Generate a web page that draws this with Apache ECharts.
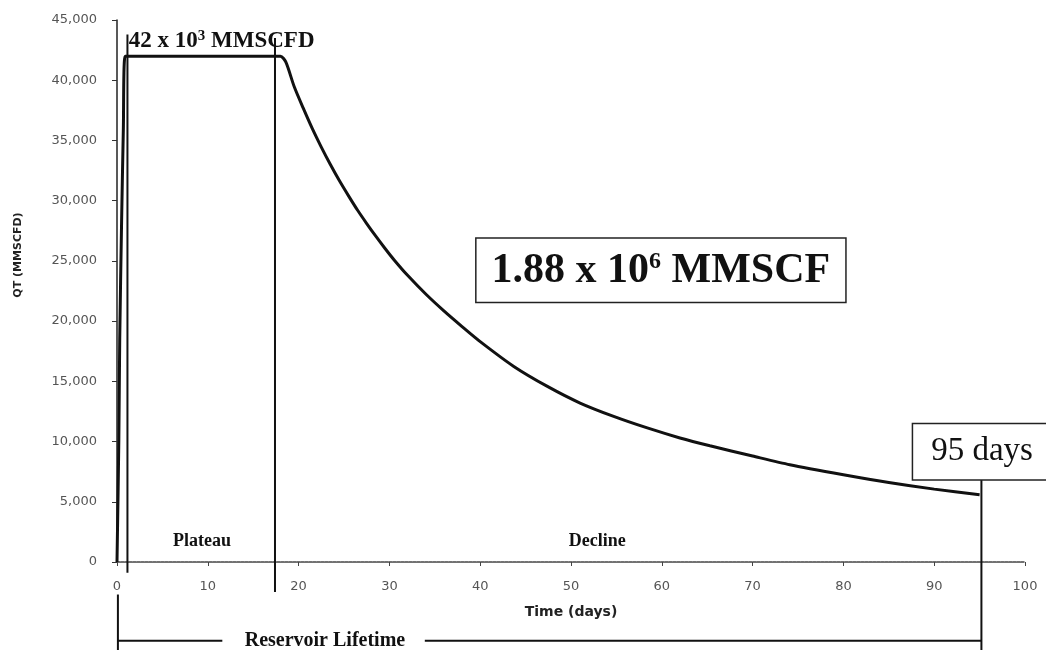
<!DOCTYPE html>
<html><head><meta charset="utf-8">
<script src="https://cdn.jsdelivr.net/npm/echarts@6/dist/echarts.min.js"></script>
<style>html,body{margin:0;padding:0;background:#fff}#c{width:1046px;height:650px}</style>
</head><body><div id="c"></div>
<script>
// ---- data ----
const days = [0, 0.2, 0.3, 0.5, 0.7, 0.9, 5, 10, 15, 18.0, 18.6, 19.5, 20.5, 21.5, 22.5, 23.5, 24.5, 25.5, 26.5, 27.5, 28.5, 29.5, 30.5, 32, 34, 36, 38, 40, 43.7, 47.4, 51, 54.7, 58.4, 62, 65.3, 70, 74.1, 80, 85, 90, 95];
const rate = [0, 10000, 18500, 28000, 36000, 42000, 42000, 42000, 42000, 42000, 41500, 39500, 37700, 36000, 34450, 33000, 31650, 30400, 29200, 28100, 27050, 26050, 25100, 23800, 22250, 20850, 19550, 18300, 16240, 14580, 13200, 12090, 11130, 10300, 9650, 8800, 8080, 7250, 6600, 6050, 5590];

// vertical marker lines (day, top value, bottom value)
const markerDays = [1.15, 17.4, 95.2];
const markerTop = [43800, 43500, 6830];
const markerBottom = [-900, -2500, -7400];

// reservoir lifetime bracket
const lifetimeStart = 0.1;
const lifetimeEnd = 95.2;
const lifetimeLevel = -6535;
const lifetimeGap = [11.6, 33.9];

// annotation texts
const annoText = ['42 x 10{s|3} MMSCFD', 'Plateau', 'Decline', '1.88 x 10{s|6} MMSCF', '95 days', 'Reservoir Lifetime'];
const annoDay = [1.3, 9.35, 52.9, 59.9, 95.27, 22.9];
const annoValue = [43280, 1685, 1685, 24230, 9150, lifetimeLevel];

// ---- styles for annotations ----
const serif = '"Liberation Serif", "Times New Roman", serif';
const annoStyle = [
  {fontSize: 23, fontWeight: 'bold', align: 'left', rich: {s: {fontSize: 15, fontWeight: 'bold', fontFamily: serif, verticalAlign: 'top', padding: [0, 0, 9, 0]}}},
  {fontSize: 18, fontWeight: 'bold', align: 'center'},
  {fontSize: 18, fontWeight: 'bold', align: 'center'},
  {fontSize: 42, fontWeight: 'bold', align: 'center', backgroundColor: '#fff', borderColor: '#222', borderWidth: 1.5, padding: [11, 15, 10, 15],
   rich: {s: {fontSize: 24, fontWeight: 'bold', fontFamily: serif, verticalAlign: 'top', padding: [0, 0, 18, 0]}}},
  {fontSize: 33, fontWeight: 'normal', align: 'center', backgroundColor: '#fff', borderColor: '#222', borderWidth: 1.5, padding: [12, 18, 10, 18]},
  {fontSize: 20, fontWeight: 'bold', align: 'center'}
];

const segments = [];
markerDays.forEach((d, i) => segments.push([d, markerTop[i], d, markerBottom[i]]));
segments.push([lifetimeStart, -2700, lifetimeStart, -7400]);
segments.push([lifetimeStart, lifetimeLevel, lifetimeGap[0], lifetimeLevel]);
segments.push([lifetimeGap[1], lifetimeLevel, lifetimeEnd, lifetimeLevel]);

const labels = annoText.map((t, i) => [annoDay[i], annoValue[i], i]);

function addCommas(v) { return String(v).replace(/\B(?=(\d{3})+(?!\d))/g, ','); }

const chart = echarts.init(document.getElementById('c'), null, {renderer: 'canvas'});
chart.setOption({
  backgroundColor: '#fff',
  animation: false,
  grid: {left: 117, right: 21, top: 20, bottom: 88},
  xAxis: {
    type: 'value', min: 0, max: 100, interval: 10,
    name: 'Time (days)', nameLocation: 'middle', nameGap: 43,
    nameTextStyle: {fontFamily: '"DejaVu Sans", sans-serif', fontWeight: 'bold', fontSize: 14, color: '#222'},
    axisLine: {show: true, lineStyle: {color: '#444', width: 1.5, type: [3, 1]}},
    axisTick: {show: true, length: 4, lineStyle: {color: '#444'}},
    axisLabel: {fontFamily: '"DejaVu Sans", sans-serif', fontSize: 13, color: '#555', margin: 18},
    splitLine: {show: false}
  },
  yAxis: {
    type: 'value', min: 0, max: 45000, interval: 5000,
    axisLine: {show: true, lineStyle: {color: '#222', width: 1.5}},
    axisTick: {show: true, length: 5, lineStyle: {color: '#333'}},
    axisLabel: {fontFamily: '"DejaVu Sans", sans-serif', fontSize: 13, color: '#555', margin: 20, formatter: addCommas},
    splitLine: {show: false}
  },
  graphic: [{
    type: 'text', x: 18, y: 255, rotation: Math.PI / 2,
    style: {text: 'QT (MMSCFD)', align: 'center', verticalAlign: 'middle', fontFamily: '"DejaVu Sans", sans-serif', fontWeight: 'bold', fontSize: 11, fill: '#222'}
  }],
  series: [
    {
      type: 'line', data: days.map((d, i) => [d, rate[i]]), showSymbol: false,
      smooth: 0.25,
      lineStyle: {color: '#111', width: 3}, z: 3
    },
    {
      type: 'custom', data: segments, clip: false, z: 4,
      encode: {x: [0, 2], y: [1, 3]},
      renderItem: function (params, api) {
        const a = api.coord([api.value(0), api.value(1)]);
        const b = api.coord([api.value(2), api.value(3)]);
        return {type: 'line', shape: {x1: a[0], y1: a[1], x2: b[0], y2: b[1]}, style: {stroke: '#111', lineWidth: 2}};
      }
    },
    {
      type: 'custom', data: labels, clip: false, z: 5,
      encode: {x: 0, y: 1},
      renderItem: function (params, api) {
        const i = api.value(2);
        const p = api.coord([api.value(0), api.value(1)]);
        const st = Object.assign({text: annoText[i], fontFamily: serif, fill: '#111', verticalAlign: 'middle'}, annoStyle[i]);
        if (i === 5) { st.backgroundColor = '#fff'; st.padding = [0, 4, 0, 4]; }
        return {type: 'text', x: p[0], y: p[1], style: st};
      }
    }
  ]
});
</script>
</body></html>
